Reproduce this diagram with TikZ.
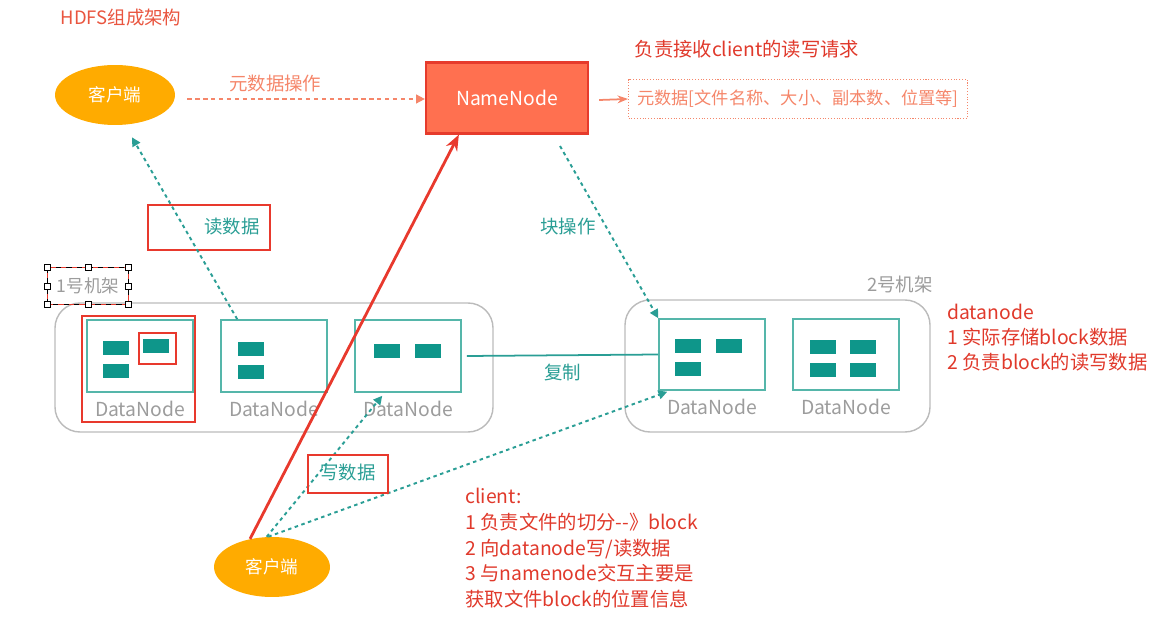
\documentclass[tikz,border=0pt]{standalone}
\usepackage{fontspec}
\setmainfont{Noto Sans CJK SC}
\usetikzlibrary{shapes.geometric, arrows.meta, positioning, calc}

\definecolor{clientorange}{HTML}{FFAB00}
\definecolor{namefill}{HTML}{FF7050}
\definecolor{nameline}{HTML}{E63B2C}
\definecolor{salmon}{HTML}{F5866A}
\definecolor{titlered}{HTML}{E9553F}
\definecolor{markred}{HTML}{E8392D}
\definecolor{notered}{HTML}{E0392B}
\definecolor{blockteal}{HTML}{0E968A}
\definecolor{dnline}{HTML}{55B6AA}
\definecolor{arrowteal}{HTML}{2A9E95}
\definecolor{rackline}{HTML}{BBBBBB}
\definecolor{labelgray}{HTML}{9C9C9C}

\tikzset{
	client/.style={ellipse, fill=clientorange, text=white, minimum width=2.4cm, minimum height=1.2cm, font=\fontsize{10}{12}\selectfont},
	dnbox/.style={draw=dnline, line width=0.9pt, minimum width=2.12cm, minimum height=1.44cm},
	dnlabel/.style={text=labelgray, font=\fontsize{11}{13}\selectfont, inner sep=1pt},
	rack/.style={draw=rackline, line width=0.8pt, rounded corners=0.5cm},
	redbox/.style={draw=markred, line width=1.3pt},
	tealtext/.style={text=arrowteal, font=\fontsize{10.5}{12}\selectfont},
	tealdot/.style={draw=arrowteal, line width=1.1pt, dash pattern=on 2pt off 2pt, -{Triangle[length=5pt,width=5pt]}},
	note/.style={text=notered, align=left, anchor=north west, inner sep=0pt, font=\fontsize{11}{14.6}\selectfont},
	handle/.style={draw=black, fill=white, line width=0.5pt, minimum size=0.12cm, inner sep=0pt},
}

\begin{document}
\begin{tikzpicture}[x=0.02cm, y=-0.02cm]
	\useasboundingbox (0,0) rectangle (1162,621);

	% top row
	\node[text=titlered, font=\fontsize{10.5}{12}\selectfont] (title) at (121,18) {HDFS组成架构};
	\node[client] (cltop) at (115,95) {客户端};
	\node[fill=namefill, draw=nameline, line width=1.3pt, text=white, minimum width=3.24cm, minimum height=1.42cm, font=\fontsize{11}{13}\selectfont] (name) at (507,98) {NameNode};
	\node[draw=salmon, densely dotted, line width=0.6pt, text=salmon, text width=6.5cm, align=center, minimum width=6.78cm, minimum height=0.78cm, font=\fontsize{9.8}{12}\selectfont] (meta) at (798,99) {元数据[文件名称、大小、副本数、位置等]};
	\node[text=notered, font=\fontsize{11}{13}\selectfont] (nametxt) at (747,49) {负责接收client的读写请求};

	\begin{scope}[salmon, line width=1pt]
		\draw[dash pattern=on 2.5pt off 2pt, -{Triangle[length=5pt,width=5pt]}] (cltop.east)++(12,4) -- node[above, pos=0.37, text=salmon, font=\fontsize{10.5}{12}\selectfont] {元数据操作} (name.west |- 0,99);
		\draw[-{Stealth[length=6pt]}] (name.east)++(10,2) -- (meta.west);
	\end{scope}

	% rack 1
	\draw[rack] (55,303) rectangle (493,432);
	\node[text=labelgray, minimum width=1.6cm, minimum height=0.72cm, font=\fontsize{10}{12}\selectfont] (rackone) at (88,286) {1号机架};
	\draw[black, dashed, line width=0.6pt] (rackone.north west) rectangle (rackone.south east);
	\draw[markred, dash pattern=on 3pt off 3pt, dash phase=3pt, line width=0.8pt] (rackone.north west) rectangle (rackone.south east);
	\foreach \a in {north west, north, north east, east, south east, south, south west, west}
		\node[handle] at (rackone.\a) {};

	\node[dnbox] (dn1) at (140,356) {};
	\node[dnbox] (dn2) at (274,356) {};
	\node[dnbox] (dn3) at (408,356) {};
	\foreach \d in {dn1, dn2, dn3}
		\node[dnlabel, below=3.5pt of \d] (\d txt) {DataNode};

	% rack 2
	\draw[rack] (625,300) rectangle (930,432);
	\node[text=labelgray, font=\fontsize{10.5}{12}\selectfont] (racktwo) at (900,284) {2号机架};
	\node[dnbox, minimum height=1.42cm] (dna) at (712,354.5) {};
	\node[dnbox, minimum height=1.42cm] (dnb) at (846,354.5) {};
	\foreach \d in {dna, dnb}
		\node[dnlabel, below=3.5pt of \d] (\d txt) {DataNode};

	% blocks
	\foreach \x/\y in {103/341, 143/339, 103/364, 238/342, 238/365, 374/344, 415/344,
			675/339, 716/339, 675/362, 810/340, 850/340, 810/363, 850/363}
		\fill[blockteal] (\x,\y) rectangle ++(26,14);

	% red marks
	\draw[redbox] (82,316) rectangle (195,422);
	\draw[redbox] (139,333) rectangle (176,364);

	% replication
	\draw[arrowteal, line width=1pt] (dn3.east)++(5,0) -- node[below=1pt, tealtext] {复制} (dna.west);

	% block operation
	\coordinate (bopstart) at (560,146);
	\draw[tealdot] (bopstart) -- node[pos=0.47, left=2pt, tealtext] {块操作} (dna.north west);

	% read data
	\node[redbox, minimum width=2.44cm, minimum height=0.9cm] (readbox) at (209,227.5) {};
	\draw[tealdot] ($(dn2.north west)+(17,0)$) -- ($(cltop.south)+(17,12)$);
	\node[tealtext] (readtxt) at (232,227) {读数据};

	% bottom client
	\node[client, minimum width=2.32cm] (clbot) at (272,567) {客户端};
	\draw[markred, line width=1.6pt, -{Stealth[length=9pt,width=7pt]}] (clbot.128) -- ($(name.south west)+(34,0)$);
	\draw[tealdot] (clbot.100) -- ($(dn3.south west)+(28,3)$);
	\draw[tealdot] (clbot.97) -- ($(dna.south west)+(9,1)$);
	\node[redbox, minimum width=1.6cm, minimum height=0.76cm] (writebox) at (348,474) {};
	\node[tealtext] (writetxt) at (348,473) {写数据};

	% notes
	\node[note] (clnote) at (465,488) {client:\\1 负责文件的切分-{}-》block\\2 向datanode写/读数据\\3 与namenode交互主要是\\获取文件block的位置信息};
	\node[note, font=\fontsize{11}{14.2}\selectfont] (dnnote) at (947,304) {datanode\\1 实际存储block数据\\2 负责block的读写数据};
\end{tikzpicture}
\end{document}
